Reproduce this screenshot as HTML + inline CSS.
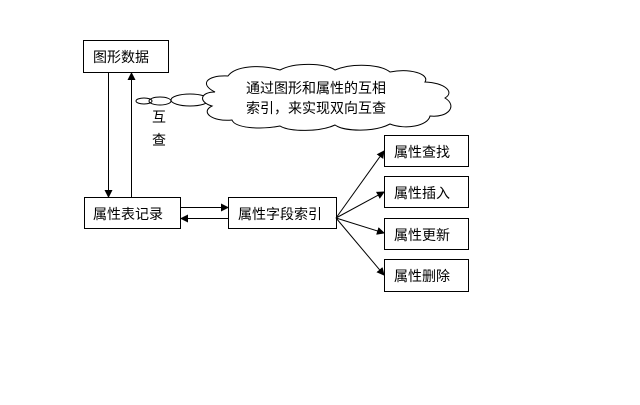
<!DOCTYPE html>
<html><head><meta charset="utf-8"><style>
body{margin:0;background:#fff;width:640px;height:400px;overflow:hidden}
text{font-family:"Liberation Sans","Noto Sans CJK SC",sans-serif;font-size:14px;fill:#000}
</style></head><body>
<svg width="640" height="400" xmlns="http://www.w3.org/2000/svg">
<defs><marker id="a" markerWidth="8" markerHeight="8" refX="7" refY="4" orient="auto" markerUnits="userSpaceOnUse"><path d="M0,0L8,4L0,8z" fill="#000"/></marker></defs>
<g fill="#fff" stroke="#000" stroke-width="1">
<rect x="83.5" y="40.5" width="85" height="32"/>
<rect x="84.5" y="197.5" width="96" height="31"/>
<rect x="228.5" y="197.5" width="108" height="31"/>
<rect x="384.5" y="135.5" width="84" height="31"/>
<rect x="384.5" y="176.5" width="84" height="31"/>
<rect x="384.5" y="218.5" width="84" height="31"/>
<rect x="384.5" y="259.5" width="84" height="32"/>
</g>
<g stroke="#000" stroke-width="1" fill="none">
<line x1="108.5" y1="72" x2="108.5" y2="197" marker-end="url(#a)"/>
<line x1="131.5" y1="197" x2="131.5" y2="73" marker-end="url(#a)"/>
<line x1="181" y1="207.5" x2="228" y2="207.5" marker-end="url(#a)"/>
<line x1="228" y1="218.5" x2="181" y2="218.5" marker-end="url(#a)"/>
<line x1="336" y1="218" x2="384" y2="151" marker-end="url(#a)"/>
<line x1="336" y1="218" x2="384" y2="192" marker-end="url(#a)"/>
<line x1="336" y1="218" x2="384" y2="233" marker-end="url(#a)"/>
<line x1="336" y1="218" x2="384" y2="275" marker-end="url(#a)"/>
<ellipse cx="144" cy="101" rx="8" ry="3"/>
<ellipse cx="160" cy="101" rx="11" ry="4"/>
<ellipse cx="190" cy="100" rx="19" ry="6"/>
<path d="M215,92 C200,85 205,75 228,76 C235,66 260,64 280,70 C295,62 325,63 335,70 C352,63 380,64 390,72 C410,68 430,74 425,82 C445,83 455,92 445,98 C458,106 448,118 430,116 C428,126 405,130 390,124 C375,132 345,132 335,125 C320,132 290,132 280,126 C260,130 235,128 232,120 C212,122 200,112 212,106 C198,102 200,92 215,92 Z" fill="#fff"/>
</g>
<text x="93" y="62">图形数据</text>
<text x="93" y="219">属性表记录</text>
<text x="238" y="219">属性字段索引</text>
<text x="394" y="157">属性查找</text>
<text x="394" y="198">属性插入</text>
<text x="394" y="240">属性更新</text>
<text x="394" y="281">属性删除</text>
<text x="152" y="122">互</text>
<text x="152" y="145">查</text>
<text x="246" y="93">通过图形和属性的互相</text>
<text x="246" y="113">索引，来实现双向互查</text>
</svg>
</body></html>
